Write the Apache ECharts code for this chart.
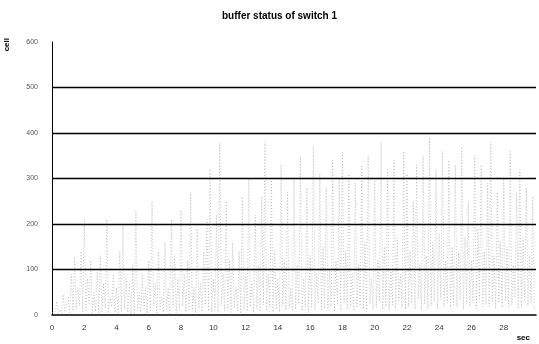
<!DOCTYPE html>
<html><head><meta charset="utf-8">
<script src="https://cdn.jsdelivr.net/npm/echarts@6/dist/echarts.min.js"></script>
<style>html,body{margin:0;padding:0;background:#fff}#c{width:539px;height:344px}</style>
</head><body><div id="c"></div>
<script>
var titleText = "buffer status of switch 1";
var yName = "cell";
var xName = "sec";
var yTicks = [0, 100, 200, 300, 400, 500, 600];
var xTicks = [0, 2, 4, 6, 8, 10, 12, 14, 16, 18, 20, 22, 24, 26, 28];
var gridValues = [100, 200, 300, 400, 500];
var sampleStep = 0.1;
var buffer = [
 5,2,8,30,4,12,3,45,6,10,
 40,5,90,8,130,12,60,20,140,6,
 210,10,80,25,120,4,50,8,95,3,
 130,6,70,15,210,4,40,18,90,5,
 60,3,140,8,200,12,80,5,70,2,
 110,4,230,10,50,6,90,14,60,3,
 120,7,250,20,70,4,140,12,40,6,
 160,9,60,3,210,16,130,5,80,10,
 230,18,90,6,120,12,270,8,60,4,
 190,14,70,7,140,22,210,9,320,6,
 80,11,220,5,380,20,90,8,250,10,
 120,6,160,15,60,9,140,3,260,12,
 90,8,300,18,70,5,220,14,110,7,
 260,22,380,9,90,16,300,6,140,12,
 80,7,330,20,120,10,270,15,60,8,
 300,12,110,24,350,9,80,18,280,6,
 130,15,370,10,90,26,310,12,150,14,
 280,9,100,18,340,7,120,22,300,11,
 360,28,140,12,310,20,90,9,290,16,
 110,20,330,13,160,8,350,24,80,11,
 300,16,120,30,380,12,150,19,320,9,
 100,22,340,11,170,32,90,15,360,12,
 310,18,140,26,250,12,330,35,110,10,
 350,24,130,15,390,20,160,30,320,13,
 180,34,360,18,120,26,340,14,150,22,
 330,17,140,32,370,12,170,24,250,19,
 120,26,350,14,190,36,330,18,140,22,
 290,19,380,30,130,14,270,26,160,17,
 300,32,150,18,360,22,110,38,270,14,
 320,17,170,30,280,20,130,26,260,12
];
var pts = buffer.map(function(v, i){ return [i * sampleStep, v]; });
var chart = echarts.init(document.getElementById('c'), null, {renderer: 'canvas'});
var font = 'Liberation Sans';
chart.setOption({
  animation: false,
  title: {text: titleText, left: 217, top: 6,
    textStyle: {fontFamily: font, fontSize: 10, fontWeight: 'bold', color: '#000'}},
  grid: {left: 52, right: 3, top: 42, bottom: 29, containLabel: false},
  graphic: [{type: 'text', left: 3, top: 38, rotation: Math.PI / 2,
    style: {text: yName, font: 'bold 8px ' + font, fill: '#000'}}],
  xAxis: {type: 'value', min: 0, max: 30, interval: 2,
    name: xName, nameLocation: 'end', nameGap: 0,
    nameTextStyle: {fontFamily: font, fontSize: 8, fontWeight: 'bold', color: '#000',
      verticalAlign: 'top', align: 'right', padding: [19, 6, 0, 0]},
    axisLine: {lineStyle: {color: '#000', width: 1.5}},
    axisTick: {show: false},
    splitLine: {show: false},
    axisLabel: {fontFamily: font, fontSize: 8, color: '#333', margin: 9,
      formatter: function(v){ return xTicks.indexOf(v) >= 0 ? String(v) : ''; }}},
  yAxis: {type: 'value', min: 0, max: 600, interval: 100,
    axisLine: {show: true, lineStyle: {color: '#000', width: 1}},
    axisTick: {show: false},
    splitLine: {show: false},
    axisLabel: {fontFamily: font, fontSize: 7, color: '#555', margin: 14,
      formatter: function(v){ return yTicks.indexOf(v) >= 0 ? String(v) : ''; }}},
  series: [{
    type: 'line', data: pts, showSymbol: false, silent: true,
    lineStyle: {color: '#a0a0a0', width: 0.6, type: [1, 2]},
    markLine: {silent: true, symbol: 'none', label: {show: false},
      lineStyle: {color: '#000', width: 1.3, type: 'solid'},
      data: gridValues.map(function(g){ return {yAxis: g}; })}
  }]
});
</script></body></html>
